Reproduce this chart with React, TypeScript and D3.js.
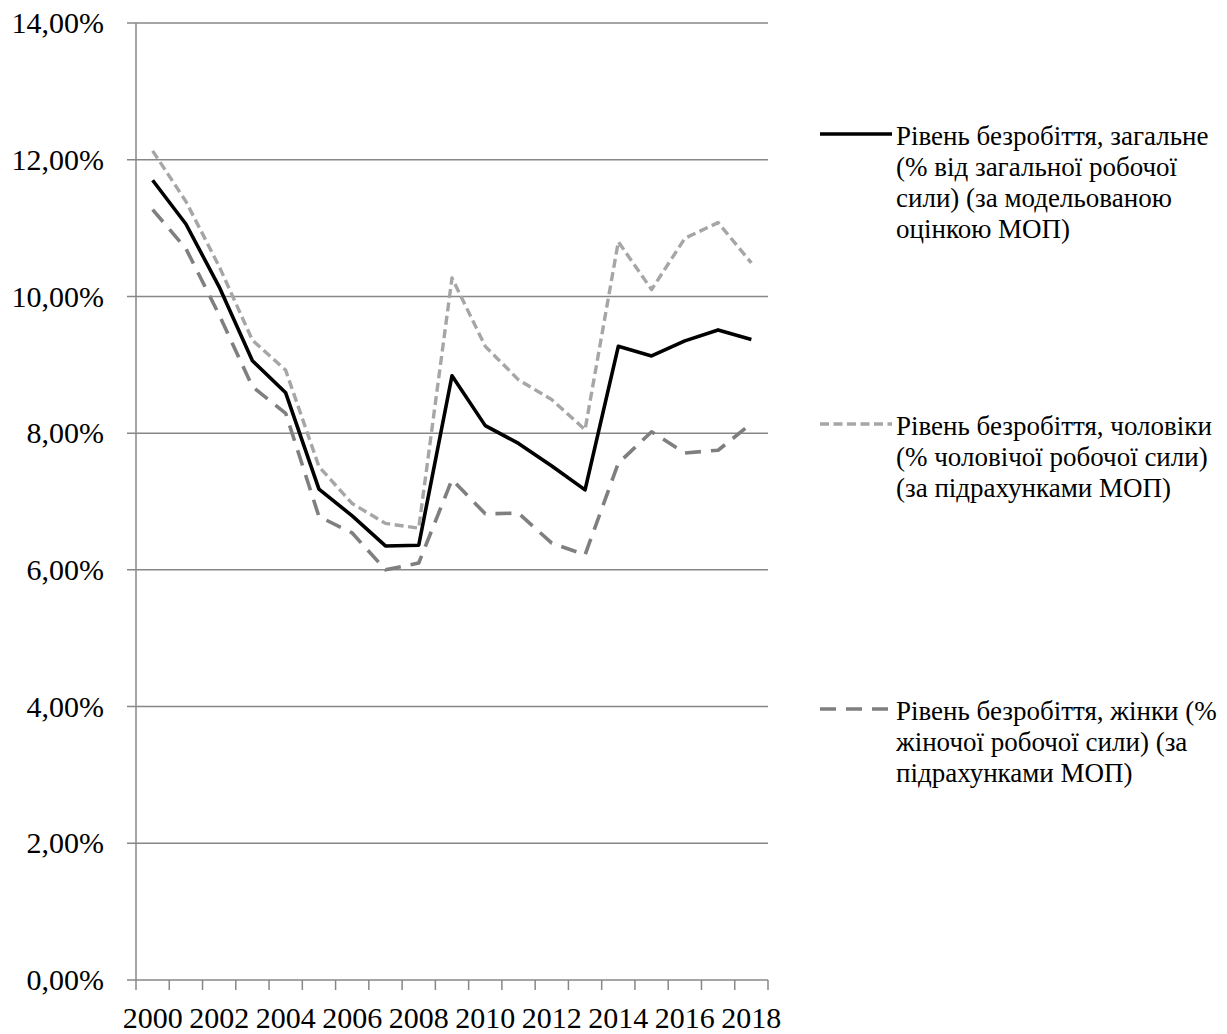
import React from 'react'
import * as d3 from 'd3'

// years on the category axis
const YEARS = [
  '2000','2001','2002','2003','2004','2005','2006','2007','2008','2009',
  '2010','2011','2012','2013','2014','2015','2016','2017','2018'
]

// unemployment, %
const TOTAL = [11.70,11.06,10.14,9.06,8.59,7.18,6.79,6.35,6.36,8.84,8.11,7.85,7.52,7.17,9.27,9.13,9.35,9.51,9.37]
const MALE = [12.13,11.39,10.44,9.36,8.92,7.51,6.97,6.68,6.61,10.27,9.27,8.78,8.49,8.05,10.80,10.10,10.85,11.08,10.49]
const FEMALE = [11.27,10.70,9.73,8.68,8.29,6.78,6.54,6.00,6.10,7.32,6.82,6.83,6.39,6.22,7.56,8.02,7.71,7.75,8.14]

const Y_TICKS = [0, 2, 4, 6, 8, 10, 12, 14]

const LEGEND_TOTAL = ['Рівень безробіття, загальне', '(% від загальної робочої', 'сили) (за модельованою', 'оцінкою МОП)']
const LEGEND_MALE = ['Рівень безробіття, чоловіки', '(% чоловічої робочої сили)', '(за підрахунками МОП)']
const LEGEND_FEMALE = ['Рівень безробіття, жінки (%', 'жіночої робочої сили) (за', 'підрахунками МОП)']

const W = 1227
const H = 1034
const plot = { left: 136, right: 768, top: 23, bottom: 980 }
const FONT = "'Liberation Serif', serif"
const GRID = '#878787'

const series = [
  { values: TOTAL, color: '#000000', width: 3.6, dash: null as string | null, legend: LEGEND_TOTAL, ly: 134 },
  { values: MALE, color: '#a6a6a6', width: 3.4, dash: '9,4.5', legend: LEGEND_MALE, ly: 424 },
  { values: FEMALE, color: '#7f7f7f', width: 3.6, dash: '16,10', legend: LEGEND_FEMALE, ly: 709 },
]

export default function App() {
  const x = d3.scaleBand<string>().domain(YEARS).range([plot.left, plot.right]).padding(0)
  const y = d3.scaleLinear().domain([0, 14]).range([plot.bottom, plot.top])
  const cx = (yr: string) => (x(yr) ?? 0) + x.bandwidth() / 2

  const line = d3.line<number>()
    .x((_, i) => cx(YEARS[i]))
    .y(d => y(d))

  const boundaries = d3.range(YEARS.length + 1).map(i => plot.left + i * x.bandwidth())

  return (
    <svg width={W} height={H} style={{ position: 'absolute', left: 0, top: 0, background: '#fff', fontFamily: FONT }}>
      {/* gridlines + y labels */}
      {Y_TICKS.map(t => (
        <g key={t}>
          <line x1={plot.left - 9} x2={plot.right} y1={y(t)} y2={y(t)} stroke={GRID} strokeWidth={1.5} />
          <text x={104} y={y(t)} dy="0.34em" textAnchor="end" fontSize={30} fill="#000" style={{ fontFamily: FONT }}>
            {t.toFixed(2).replace('.', ',')}%
          </text>
        </g>
      ))}
      {/* axes */}
      <line x1={plot.left} x2={plot.left} y1={plot.top} y2={plot.bottom} stroke={GRID} strokeWidth={1.5} />
      {boundaries.map((bx, i) => (
        <line key={i} x1={bx} x2={bx} y1={plot.bottom} y2={plot.bottom + 10} stroke={GRID} strokeWidth={1.5} />
      ))}
      {YEARS.filter((_, i) => i % 2 === 0).map(yr => (
        <text key={yr} x={cx(yr)} y={1028} textAnchor="middle" fontSize={30} fill="#000" style={{ fontFamily: FONT }}>{yr}</text>
      ))}

      {/* series */}
      {series.map((s, i) => (
        <path key={i} d={line(s.values) ?? ''} fill="none" stroke={s.color} strokeWidth={s.width}
          strokeDasharray={s.dash ?? undefined} strokeLinejoin="round" />
      ))}

      {/* legend */}
      {series.map((s, i) => (
        <g key={i}>
          <line x1={820} x2={892} y1={s.ly} y2={s.ly} stroke={s.color} strokeWidth={s.width}
            strokeDasharray={s.dash ?? undefined} />
          {s.legend.map((t, j) => (
            <text key={j} x={896} y={s.ly + 11 + j * 31} fontSize={27} fill="#000" style={{ fontFamily: FONT }}>{t}</text>
          ))}
        </g>
      ))}
    </svg>
  )
}
